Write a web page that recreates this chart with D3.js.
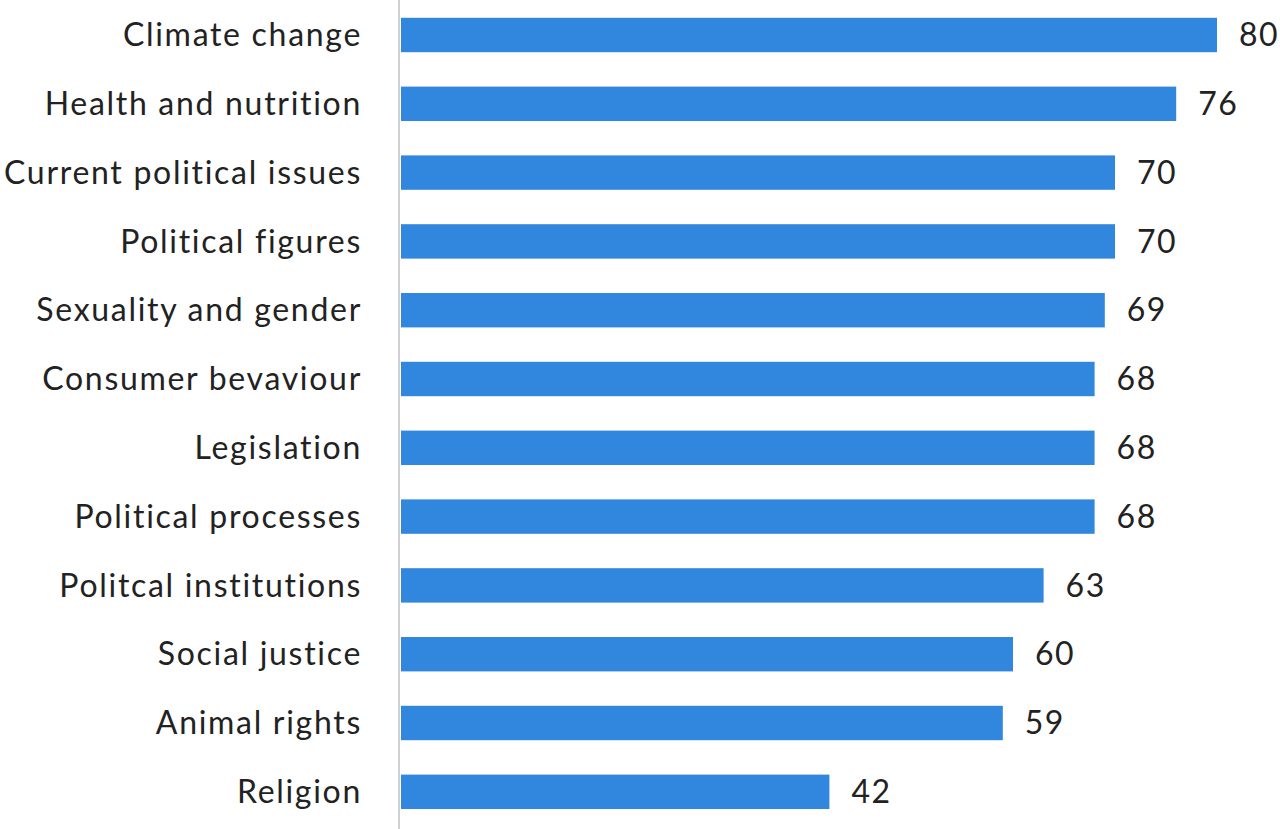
<!DOCTYPE html>
<html>
<head>
<meta charset="utf-8">
<script src="https://cdn.jsdelivr.net/npm/d3@7"></script>
<style>
  body { margin: 0; background: #fff; }
  text { font-family: Lato, "Noto Sans", sans-serif; }
</style>
</head>
<body>
<div id="chart"></div>
<script>
const categories = [
  "Climate change", "Health and nutrition", "Current political issues",
  "Political figures", "Sexuality and gender", "Consumer bevaviour",
  "Legislation", "Political processes", "Politcal institutions",
  "Social justice", "Animal rights", "Religion"
];
const values = [80, 76, 70, 70, 69, 68, 68, 68, 63, 60, 59, 42];

const width = 1280;
const height = 829;
const x0 = 401;

const svg = d3.select("#chart").append("svg")
  .attr("width", width)
  .attr("height", height);

const x = d3.scaleLinear().domain([0, 80]).range([x0, 1217]);
const y = d3.scaleBand().domain(categories).range([0.6, 826.2])
  .paddingInner(0.5).paddingOuter(0.25);

// Barres
svg.selectAll("rect")
  .data(categories)
  .enter()
  .append("rect")
  .attr("x", x(0))
  .attr("y", (d) => y(d))
  .attr("width", (d, i) => x(values[i]) - x(0))
  .attr("height", y.bandwidth())
  .attr("fill", "#3187dd");

// Axe vertical
svg.append("line")
  .attr("x1", 399).attr("x2", 399)
  .attr("y1", 0).attr("y2", height)
  .attr("stroke", "#d0d0d0")
  .attr("stroke-width", 2);

// Labels catégories
svg.selectAll("text.cat")
  .data(categories)
  .enter()
  .append("text")
  .attr("class", "cat")
  .attr("x", 362)
  .attr("y", (d) => y(d) + y.bandwidth() / 2)
  .attr("dy", "0.35em")
  .attr("text-anchor", "end")
  .attr("fill", "#222")
  .style("font-size", "32px")
  .style("letter-spacing", "1.7px")
  .text((d) => d);

// Valeurs
svg.selectAll("text.val")
  .data(categories)
  .enter()
  .append("text")
  .attr("class", "val")
  .attr("x", (d, i) => x(values[i]) + 22)
  .attr("y", (d) => y(d) + y.bandwidth() / 2)
  .attr("dy", "0.35em")
  .attr("fill", "#222")
  .style("font-size", "32px")
  .style("letter-spacing", "1.5px")
  .text((d, i) => values[i]);
</script>
</body>
</html>
